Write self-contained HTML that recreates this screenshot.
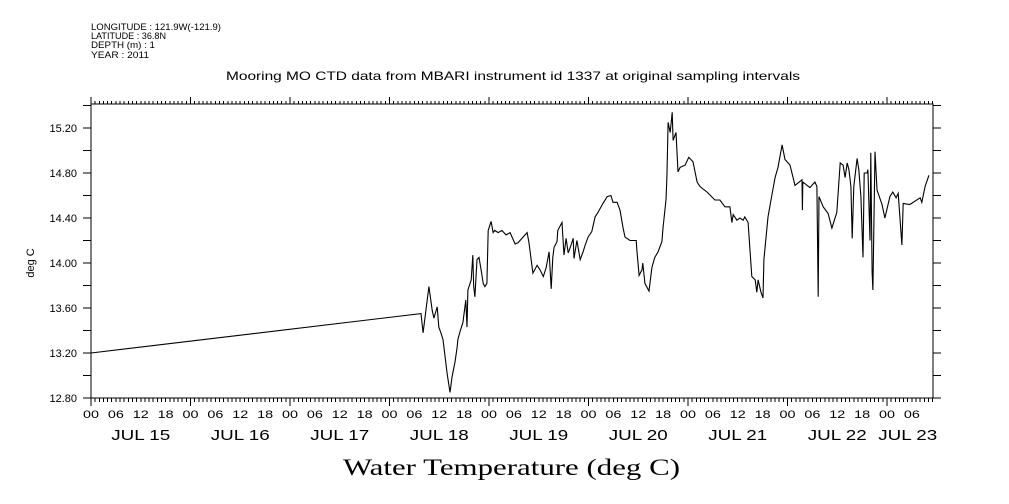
<!DOCTYPE html>
<html><head><meta charset="utf-8"><style>
html,body{margin:0;padding:0;background:#fff;}
svg{display:block;}
text{font-family:"Liberation Sans",sans-serif;fill:#000;}
</style></head><body>
<svg id="chart" width="1009" height="504" viewBox="0 0 1009 504">
<g font-size="9">
<text x="91" y="30" textLength="130" lengthAdjust="spacingAndGlyphs">LONGITUDE : 121.9W(-121.9)</text>
<text x="91" y="39" textLength="75" lengthAdjust="spacingAndGlyphs">LATITUDE : 36.8N</text>
<text x="91" y="48" textLength="64" lengthAdjust="spacingAndGlyphs">DEPTH (m) : 1</text>
<text x="91" y="58" textLength="58" lengthAdjust="spacingAndGlyphs">YEAR : 2011</text>
</g>
<text x="226" y="80" textLength="574" lengthAdjust="spacingAndGlyphs" font-size="12">Mooring MO CTD data from MBARI instrument id 1337 at original sampling intervals</text>
<text x="0" y="0" transform="translate(34,263) rotate(-90)" text-anchor="middle" font-size="11">deg C</text>
<text x="343" y="475" textLength="337" lengthAdjust="spacingAndGlyphs" font-size="23" style="font-family:'Liberation Serif','DejaVu Serif',serif">Water Temperature (deg C)</text>
<g id="axes"></g>
<g id="series"></g>
</svg>
<script>
const hours=[0,79.6,80.1,81.5,82.3,82.7,83.5,83.9,84.4,84.9,85.9,86.6,87.1,87.8,88.3,88.5,89.0,89.7,90.4,90.7,90.9,91.7,92.1,92.3,92.6,93.1,93.6,94.1,94.6,95.0,95.5,95.8,96.5,97.0,97.4,98.2,99.1,100.1,101.1,102.3,103.0,105.2,105.6,106.6,107.6,108.3,109.1,109.8,110.5,111.0,111.4,111.7,112.4,112.6,113.6,114.1,114.6,115.1,115.8,116.3,116.5,117.2,118.0,118.7,119.2,119.9,120.8,121.6,122.3,123.5,124.5,125.4,125.9,126.9,127.6,128.3,128.8,130.0,131.5,131.7,132.2,132.9,133.1,133.6,134.6,135.3,136.0,136.8,137.7,138.0,138.7,138.9,139.2,139.7,140.2,140.4,141.1,141.6,142.1,143.3,144.2,145.2,146.2,146.9,148.6,150.5,151.7,152.9,154.1,154.6,154.9,155.8,156.5,157.3,157.7,158.5,159.4,160.2,160.6,160.9,161.6,162.1,162.3,163.3,164.3,165.0,165.7,166.7,167.4,168.6,169.8,171.5,171.6,171.7,173.4,174.6,175.1,175.4,175.6,176.6,177.8,178.7,179.9,180.7,181.4,181.9,182.4,182.8,183.3,183.6,184.0,184.8,185.2,185.7,186.2,186.5,187.2,187.4,187.9,188.1,188.4,188.6,189.1,189.6,190.8,191.5,192.7,193.4,194.2,194.7,195.6,195.9,197.5,200.0,200.4,201.2,202.1];
const temps=[13.20,13.55,13.38,13.79,13.58,13.51,13.61,13.43,13.38,13.32,13.02,12.85,12.99,13.12,13.25,13.32,13.39,13.47,13.67,13.43,13.76,13.85,14.07,13.79,13.70,14.03,14.05,13.94,13.82,13.79,13.82,14.29,14.37,14.27,14.29,14.27,14.29,14.25,14.27,14.17,14.18,14.27,14.19,13.91,13.98,13.94,13.88,13.96,14.10,13.77,14.05,14.14,14.19,14.29,14.36,14.07,14.22,14.09,14.16,14.22,14.04,14.20,14.03,14.10,14.16,14.23,14.28,14.41,14.45,14.53,14.59,14.60,14.54,14.54,14.47,14.32,14.23,14.20,14.20,14.10,13.89,13.94,14.00,13.82,13.75,13.96,14.05,14.10,14.19,14.32,14.56,14.76,15.25,15.16,15.34,15.09,15.16,14.81,14.85,14.87,14.94,14.90,14.72,14.68,14.63,14.56,14.56,14.50,14.50,14.36,14.43,14.38,14.40,14.38,14.41,14.36,13.88,13.85,13.74,13.85,13.74,13.69,14.03,14.41,14.62,14.76,14.85,15.05,14.92,14.87,14.69,14.74,14.47,14.72,14.67,14.72,14.68,13.70,14.59,14.50,14.44,14.31,14.45,14.89,14.87,14.76,14.89,14.83,14.68,14.22,14.68,14.93,14.83,14.59,14.05,14.80,14.80,14.83,14.20,14.98,13.92,13.76,14.99,14.65,14.52,14.40,14.59,14.63,14.58,14.62,14.16,14.53,14.52,14.58,14.54,14.68,14.78];
const yTicks=[12.8,13.2,13.6,14.0,14.4,14.8,15.2];
const yTickLabels=["12.80","13.20","13.60","14.00","14.40","14.80","15.20"];
const dayLabels=["JUL 15","JUL 16","JUL 17","JUL 18","JUL 19","JUL 20","JUL 21","JUL 22","JUL 23"];
const hourLabels=["00","06","12","18"];

const L=91,R=933,T=104,B=398;
const xMax=(R-L)/99.5*24, yMin=12.8, yMax=12.8+(B-T)/112.5;
const X=h=>L+(h/xMax)*(R-L);
const Y=v=>B-(v-yMin)/(yMax-yMin)*(B-T);
const NS="http://www.w3.org/2000/svg";
const axes=document.getElementById('axes');
function mk(tag,attrs,parent){const e=document.createElementNS(NS,tag);for(const k in attrs)e.setAttribute(k,attrs[k]);parent.appendChild(e);return e;}
let d=`M${L} ${T}H${R}V${B}H${L}Z`;
for(let h=0;h<=xMax;h++){
  const x=X(h).toFixed(1);const day=h%24===0;
  d+=`M${x} ${B}V${B+(day?8:4)}M${x} ${T}V${T-(day?7:3)}`;
}
for(let v=12.8;v<=yMax+1e-6;v+=0.2){const y=Y(v).toFixed(1);d+=`M${L} ${y}H${L-8}M${R} ${y}H${R+8}`;}
const frame=mk('path',{d:d,stroke:'#000','stroke-width':1,fill:'none','shape-rendering':'crispEdges'},axes);


yTicks.forEach((v,i)=>{
  const t=mk('text',{x:L-14,y:Y(v)+4,'text-anchor':'end','font-size':11},axes);
  t.textContent=yTickLabels[i];
  
  
});
for(let h=0;h<=xMax;h+=6){
  const t=mk('text',{x:X(h),y:418,'text-anchor':'middle','font-size':11,textLength:16,lengthAdjust:'spacingAndGlyphs'},axes);
  t.textContent=hourLabels[(h/6)%4];
  
  
}
dayLabels.forEach((s,i)=>{
  let c=i*24+12; if(c>xMax) c=i*24+5;
  const t=mk('text',{x:X(c),y:440,'text-anchor':'middle','font-size':15,textLength:59,lengthAdjust:'spacingAndGlyphs'},axes);
  t.textContent=s;
  
  
});
const pts=hours.map((h,i)=>X(h).toFixed(1)+','+Y(temps[i]).toFixed(1)).join(' ');
const line=mk('polyline',{points:pts,fill:'none',stroke:'#000','stroke-width':1.1},document.getElementById('series'));


</script>
</body></html>
